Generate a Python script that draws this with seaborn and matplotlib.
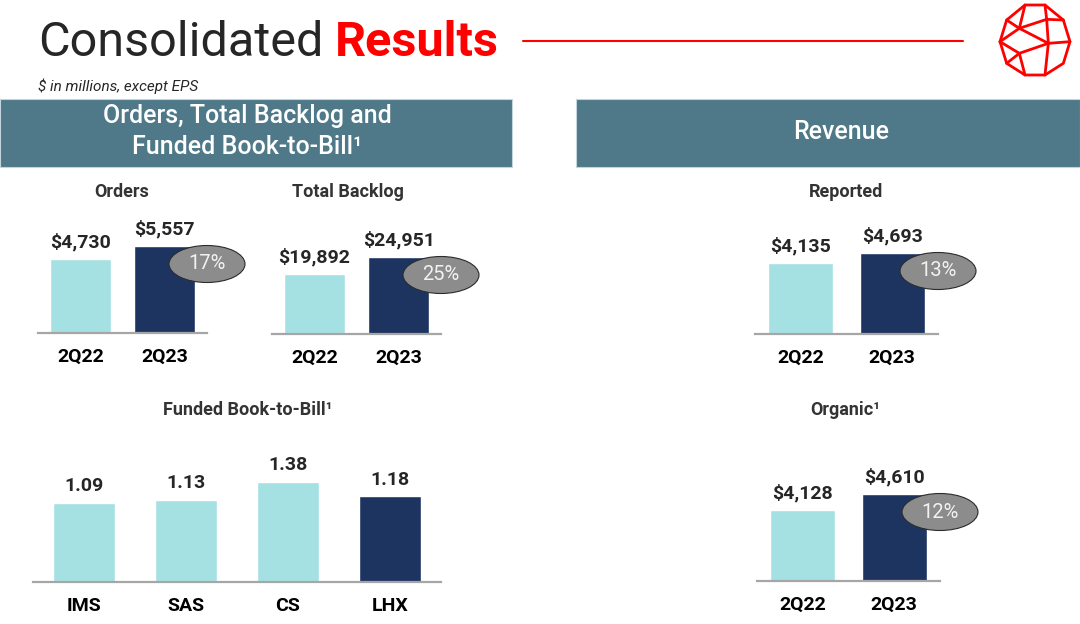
import matplotlib
matplotlib.use("Agg")
import matplotlib.pyplot as plt
import seaborn as sns
from matplotlib.patches import Rectangle, Ellipse, Polygon
from matplotlib.lines import Line2D

# --- data ---
quarters = ["2Q22", "2Q23"]
orders = [4730, 5557]
backlog = [19892, 24951]
orders_growth = "17%"
backlog_growth = "25%"

segments = ["IMS", "SAS", "CS", "LHX"]
book_to_bill = [1.09, 1.13, 1.38, 1.18]

revenue_reported = [4135, 4693]
revenue_organic = [4128, 4610]
reported_growth = "13%"
organic_growth = "12%"

LIGHT = "#A5E1E3"
DARK = "#1D3461"
HEADER = "#4F7989"
RED = "#FF0000"
TXT = "#262626"

W, H = 1080, 624
sns.set_theme(style="white")
plt.rcParams["font.family"] = ["Roboto", "DejaVu Sans"]

fig = plt.figure(figsize=(W / 100, H / 100), dpi=100)


def fx(px):
    return px / W


def fy(py):
    return 1 - py / H


def money(v):
    return f"${v:,}"


def bar_panel(left, right, base, top, cats, vals, colors, width, ybottom=0, fmt=money):
    ax = fig.add_axes([fx(left), fy(base), (right - left) / W, (base - top) / H])
    sns.barplot(x=cats, y=vals, hue=cats, palette=colors, width=width, saturation=1,
                errorbar=None, legend=False, ax=ax)
    ax.set_xlim(-0.5, len(cats) - 0.5)
    ax.set_ylim(ybottom, max(vals))
    for s in ["top", "left", "right"]:
        ax.spines[s].set_visible(False)
    ax.spines["bottom"].set_color("#A6A6A6")
    ax.spines["bottom"].set_linewidth(1.6)
    ax.set_yticks([])
    ax.set_xlabel("")
    ax.set_ylabel("")
    ax.tick_params(axis="x", length=0, pad=10.5)
    for lab in ax.get_xticklabels():
        lab.set_fontsize(14)
        lab.set_fontweight("bold")
        lab.set_color("black")
    ax.patch.set_alpha(0)
    for i, v in enumerate(vals):
        ax.annotate(fmt(v), (i, v), xytext=(0, 12), textcoords="offset points",
                    ha="center", va="center", fontsize=14, fontweight="bold",
                    color=TXT, annotation_clip=False)
    return ax


def growth_bubble(ax, i, v, text):
    # grey ellipse hanging off the right top corner of the current-quarter bar
    dx, dy = ax.transData.transform((i + 0.5, v))
    cx, cy = fig.transFigure.inverted().transform((dx, dy - 18))
    fig.patches.append(Ellipse((cx, cy), 76 / W, 37 / H, transform=fig.transFigure,
                               facecolor="#8C8C8C", edgecolor="#2B2B2B", linewidth=0.8,
                               zorder=5))
    fig.text(cx, cy, text, ha="center", va="center", fontsize=14.5, color="#F2F2F2",
             zorder=6)


# --- slide title ---
t1 = fig.text(fx(38), fy(56), "Consolidated", fontsize=35, fontweight="normal",
              color=TXT, va="baseline")
r = fig.canvas.get_renderer()
end = t1.get_window_extent(r).x1
fig.text(fx(end + 12), fy(56), "Results", fontsize=35, fontweight="bold",
         color=RED, va="baseline")
fig.lines.append(Line2D([fx(523), fx(963)], [fy(41), fy(41)], color=RED, lw=1.5,
                        transform=fig.transFigure))

# logo: red faceted sphere outline
outer = [(375, 15), (435, 15), (490, 60), (510, 125), (490, 190), (435, 225),
         (375, 225), (320, 190), (300, 125), (320, 60)]
to_fig = lambda p: (fx(900 + p[0] / 3), fy(p[1] / 3))
fig.patches.append(Polygon([to_fig(p) for p in outer], closed=True, fill=False,
                           edgecolor=RED, lw=2, transform=fig.transFigure))
A, B, C, D = (358, 85), (445, 130), (358, 160), (440, 58)
inner = [((375, 15), A), ((320, 60), A), (A, (300, 125)), (A, D), (D, (490, 60)),
         (D, (435, 15)), (A, B), (D, B), (B, (510, 125)), (C, (300, 125)), (C, B),
         (C, (320, 190)), (C, (375, 225)), (B, (435, 225))]
for p, q in inner:
    a, b = to_fig(p), to_fig(q)
    fig.lines.append(Line2D([a[0], b[0]], [a[1], b[1]], color=RED, lw=2,
                            transform=fig.transFigure))

fig.text(fx(38), fy(86), "$ in millions, except EPS", fontsize=11, style="italic",
         color=TXT, va="center")

# --- section headers ---
for x0, x1 in [(0, 512), (576, 1080)]:
    fig.patches.append(Rectangle((fx(x0), fy(167)), (x1 - x0) / W, 68 / H,
                                 transform=fig.transFigure, facecolor=HEADER,
                                 edgecolor="#C3D5DC", linewidth=0.8))
fig.text(fx(247), fy(116), "Orders, Total Backlog and", fontsize=18, color="white",
         fontweight="medium", ha="center", va="center")
fig.text(fx(247), fy(147), "Funded Book-to-Bill¹", fontsize=18, color="white",
         fontweight="medium", ha="center", va="center")
fig.text(fx(841), fy(132), "Revenue", fontsize=18, color="white",
         fontweight="medium", ha="center", va="center")

# --- sub-chart titles ---
for x, y, s in [(122, 192, "Orders"), (348, 192, "Total Backlog"),
                (846, 192, "Reported"), (248, 410, "Funded Book-to-Bill¹"),
                (845, 410, "Organic¹")]:
    fig.text(fx(x), fy(y), s, fontsize=13, fontweight="bold", color="#333333",
             ha="center", va="center")

qcolors = {quarters[0]: LIGHT, quarters[1]: DARK}
seg_colors = {s: (DARK if s == "LHX" else LIGHT) for s in segments}

ax1 = bar_panel(38, 207, 333, 246, quarters, orders, qcolors, 0.72)
growth_bubble(ax1, 1, orders[1], orders_growth)

ax2 = bar_panel(272, 441, 334, 257, quarters, backlog, qcolors, 0.72, ybottom=1500)
growth_bubble(ax2, 1, backlog[1], backlog_growth)

ax3 = bar_panel(755, 938, 334, 253, quarters, revenue_reported, qcolors, 0.71)
growth_bubble(ax3, 1, revenue_reported[1], reported_growth)

ax4 = bar_panel(757, 940, 581, 494, quarters, revenue_organic, qcolors, 0.71,
                ybottom=2000)
growth_bubble(ax4, 1, revenue_organic[1], organic_growth)

ax5 = bar_panel(33, 441, 582, 482, segments, book_to_bill, seg_colors, 0.61,
                fmt=lambda v: f"{v:.2f}")

fig.savefig("out.png", dpi=100, facecolor="white")
